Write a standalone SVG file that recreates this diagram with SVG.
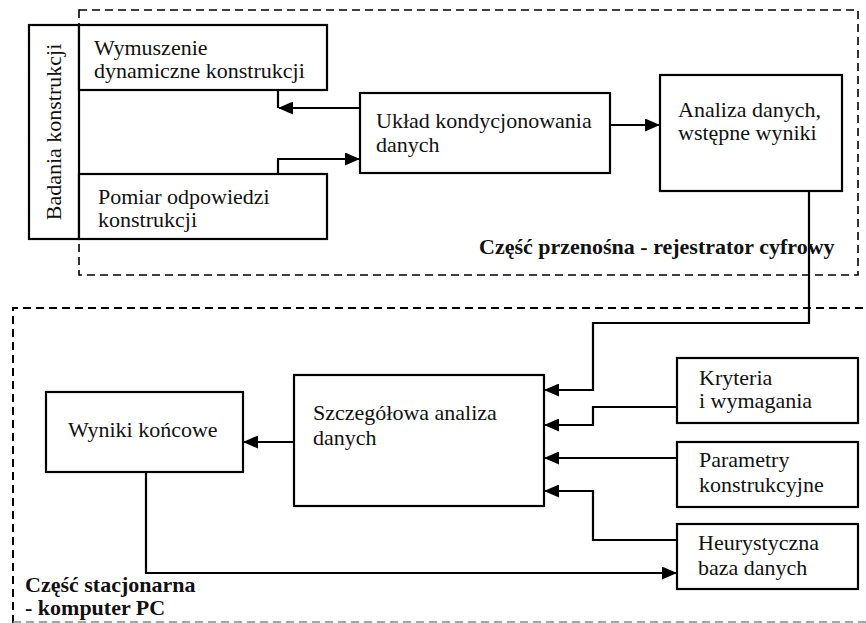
<svg xmlns="http://www.w3.org/2000/svg" width="866" height="623" viewBox="0 0 866 623">
<defs>
<style>
.box{fill:#fff;stroke:#000;stroke-width:2.2}
.frame{fill:none;stroke:#000;stroke-width:2;stroke-dasharray:8 5}
.con{fill:none;stroke:#000;stroke-width:2.2}
.t{font-size:22px;fill:#111}
.b{font-weight:bold}
</style>
<marker id="ah" markerWidth="15" markerHeight="13" refX="14" refY="6.5" orient="auto" markerUnits="userSpaceOnUse">
<path d="M0,0 L15,6.5 L0,13 Z" fill="#000"/>
</marker>
</defs>
<rect width="866" height="623" fill="#fff"/>
<g id="frames">
<rect class="frame" x="79" y="10" width="779" height="265" style="stroke-width:1.6"/>
<path class="frame" d="M13,623 L13,308 L866,308"/>
<path class="frame" d="M13,622 L866,622" style="stroke:#888;stroke-width:1.5"/>
</g>
<g id="connectors">
<path class="con" d="M360,108 L279,108" marker-end="url(#ah)"/>
<path class="con" d="M278,108 L278,90"/>
<path class="con" d="M278,174 L278,159 L359,159" marker-end="url(#ah)"/>
<path class="con" d="M610,125 L659,125" marker-end="url(#ah)"/>
<path class="con" d="M809,191 L809,323 L593,323 L593,390 L545,390" marker-end="url(#ah)"/>
<path class="con" d="M677,407 L593,407 L593,425 L545,425" marker-end="url(#ah)"/>
<path class="con" d="M677,458 L545,458" marker-end="url(#ah)"/>
<path class="con" d="M677,540 L593,540 L593,491 L545,491" marker-end="url(#ah)"/>
<path class="con" d="M294,442 L244,442" marker-end="url(#ah)"/>
<path class="con" d="M146,472 L146,573 L676,573" marker-end="url(#ah)"/>
</g>
<g font-family="Liberation Serif, DejaVu Serif, Times New Roman, serif">
<g id="badania">
<rect class="box" x="29" y="25" width="50" height="214"/>
<text class="t" transform="translate(61,132) rotate(-90)" text-anchor="middle">Badania konstrukcji</text>
</g>
<g id="wymuszenie">
<rect class="box" x="79" y="25" width="248" height="65"/>
<text class="t" x="94" y="55">Wymuszenie</text>
<text class="t" x="94" y="78">dynamiczne konstrukcji</text>
</g>
<g id="pomiar">
<rect class="box" x="79" y="174" width="248" height="65"/>
<text class="t" x="98" y="204">Pomiar odpowiedzi</text>
<text class="t" x="98" y="227">konstrukcji</text>
</g>
<g id="uklad">
<rect class="box" x="360" y="93" width="250" height="80"/>
<text class="t" x="376" y="128">Układ kondycjonowania</text>
<text class="t" x="376" y="152">danych</text>
</g>
<g id="analiza">
<rect class="box" x="660" y="75" width="182" height="116"/>
<text class="t" x="678" y="117">Analiza danych,</text>
<text class="t" x="678" y="140">wstępne wyniki</text>
</g>
<g id="label-przenosna">
<text class="t b" x="479" y="254">Część przenośna - rejestrator cyfrowy</text>
</g>
<g id="szczegolowa">
<rect class="box" x="294" y="375" width="250" height="131"/>
<text class="t" x="313" y="420">Szczegółowa analiza</text>
<text class="t" x="313" y="445">danych</text>
</g>
<g id="wyniki">
<rect class="box" x="46" y="392" width="197" height="80"/>
<text class="t" x="68" y="437">Wyniki końcowe</text>
</g>
<g id="kryteria">
<rect class="box" x="677" y="358" width="181" height="65"/>
<text class="t" x="699" y="385">Kryteria</text>
<text class="t" x="699" y="408">i wymagania</text>
</g>
<g id="parametry">
<rect class="box" x="677" y="442" width="181" height="65"/>
<text class="t" x="699" y="467">Parametry</text>
<text class="t" x="699" y="492">konstrukcyjne</text>
</g>
<g id="heurystyczna">
<rect class="box" x="677" y="524" width="181" height="65"/>
<text class="t" x="698" y="550">Heurystyczna</text>
<text class="t" x="698" y="575">baza danych</text>
</g>
<g id="label-stacjonarna">
<text class="t b" x="25" y="592">Część stacjonarna</text>
<text class="t b" x="25" y="615">- komputer PC</text>
</g>
</g>
</svg>
